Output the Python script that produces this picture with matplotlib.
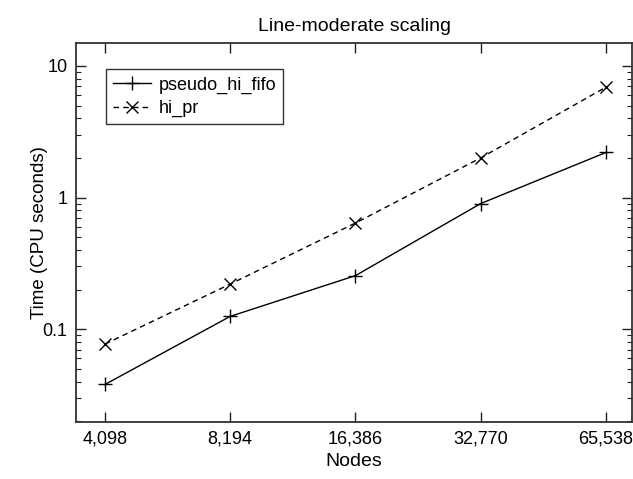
import numpy as np
import matplotlib
matplotlib.use("Agg")
import matplotlib.pyplot as plt
from matplotlib.ticker import FixedLocator, FixedFormatter, LogLocator, NullFormatter, NullLocator

plt.rcParams['font.family'] = ['Liberation Sans', 'DejaVu Sans']

nodes = [4098, 8194, 16386, 32770, 65538]
node_labels = ['4,098', '8,194', '16,386', '32,770', '65,538']
pseudo_hi_fifo = [0.038, 0.125, 0.255, 0.9, 2.2]
hi_pr = [0.077, 0.22, 0.64, 2.0, 6.9]
y_ticks = [0.1, 1, 10]
y_labels = ['0.1', '1', '10']

fig = plt.figure(figsize=(6.33, 4.79), dpi=100)
ax = fig.add_axes([0.120, 0.119, 0.8785, 0.791])

ax.plot(nodes, pseudo_hi_fifo, color='black', lw=1.0, marker='+', ms=10, mew=1.0,
        label='pseudo_hi_fifo')
ax.plot(nodes, hi_pr, color='black', lw=1.0, ls=(0, (4, 3)), marker='x', ms=8, mew=1.0,
        label='hi_pr')

ax.set_xscale('log')
ax.set_yscale('log')
ax.set_xlim(3490, 75700)
ax.set_ylim(0.0197, 14.9)

ax.xaxis.set_major_locator(FixedLocator(nodes))
ax.xaxis.set_major_formatter(FixedFormatter(node_labels))
ax.xaxis.set_minor_locator(NullLocator())
ax.yaxis.set_major_locator(FixedLocator(y_ticks))
ax.yaxis.set_major_formatter(FixedFormatter(y_labels))
ax.yaxis.set_minor_locator(LogLocator(base=10, subs=np.arange(2, 10)))
ax.yaxis.set_minor_formatter(NullFormatter())

ax.tick_params(which='both', direction='in', top=True, right=True, colors='#222222',
               labelcolor='black', labelsize=13, pad=6)
ax.tick_params(which='major', length=7, width=1.0)
ax.tick_params(which='minor', length=3.5, width=0.8)
for s in ax.spines.values():
    s.set_linewidth(1.3)
    s.set_color('#333333')

ax.set_xlabel('Nodes', fontsize=14, labelpad=4)
ax.set_ylabel('Time (CPU seconds)', fontsize=13.5)
ax.yaxis.set_label_coords(-0.05, 0.5)
ax.set_title('Line-moderate scaling', fontsize=14, pad=9)

leg = ax.legend(loc='upper left', bbox_to_anchor=(0.054, 0.931), borderaxespad=0,
                fontsize=13, frameon=True, fancybox=False, handlelength=2.1,
                borderpad=0.4, labelspacing=0.35, handletextpad=0.4)
leg.get_frame().set_edgecolor('black')
leg.get_frame().set_linewidth(1.0)

fig.savefig('out.png', dpi=100)
